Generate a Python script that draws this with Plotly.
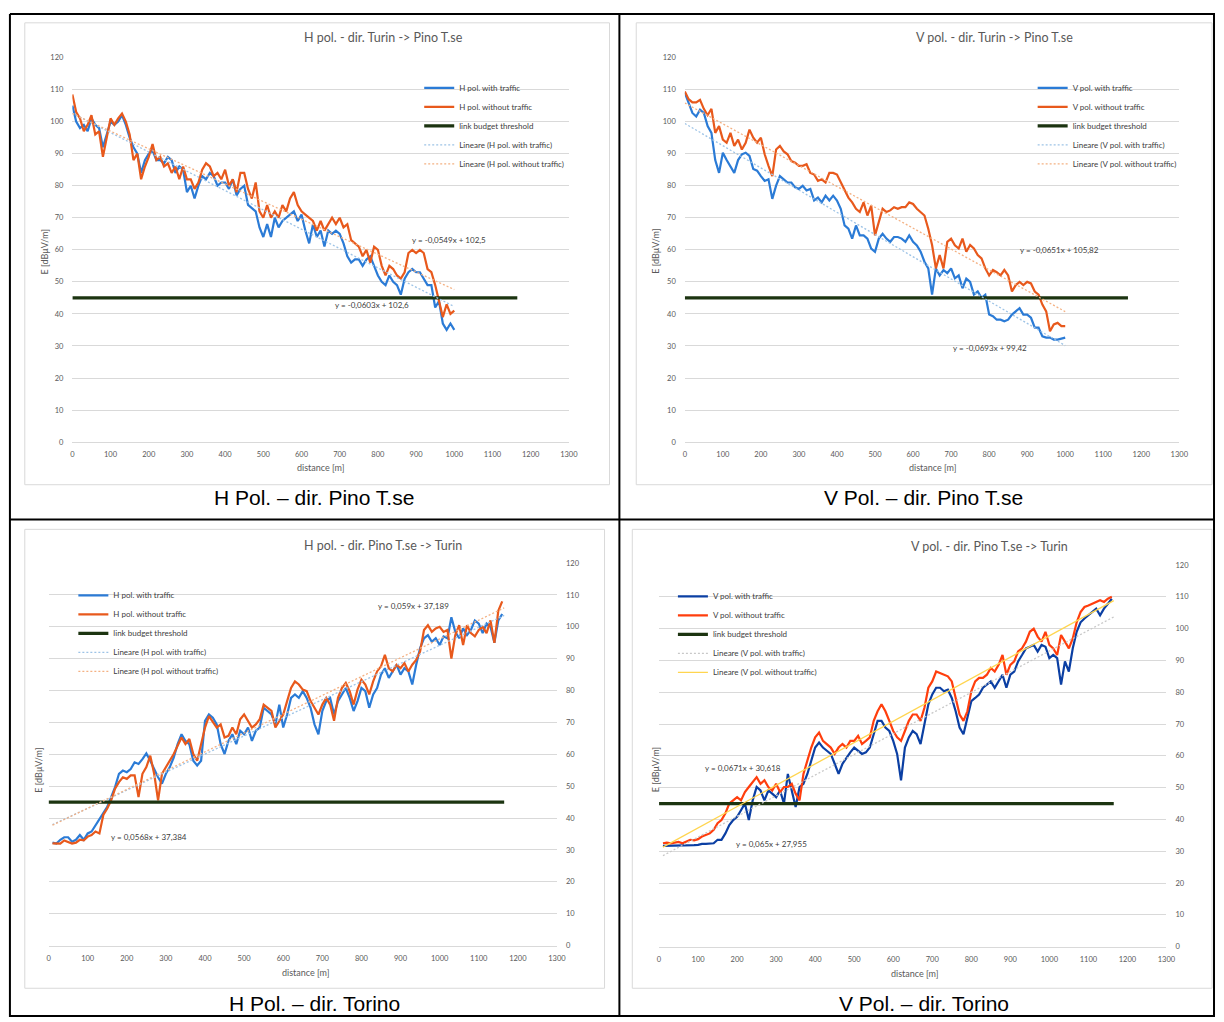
import plotly.graph_objects as go

# ---------------------------------------------------------------------------
# Field strength measurements along the road (distance in metres, E in dBuV/m)
# ---------------------------------------------------------------------------

# Turin -> Pino T.se, sampled every 10 m from 0 to 1000 m
dist_to_pino = list(range(0, 1001, 10))

h_pino_with_traffic = [
    105, 100, 98, 99, 97, 101, 99, 98, 92, 96,
    100, 99, 100, 102, 99, 95, 92, 90, 84, 88,
    90, 91, 88, 88, 87, 89, 88, 84, 86, 85,
    78, 80, 76, 80, 83, 82, 84, 83, 80, 81,
    81, 79, 82, 77, 79, 80, 74, 73, 72, 67,
    64, 68, 64, 70, 67, 69, 70, 71, 72, 69,
    71, 66, 62, 68, 64, 66, 61, 66, 65, 66,
    65, 62, 58, 56, 57, 57, 55, 57, 58, 55,
    52, 50, 49, 52, 50, 49, 46, 51, 53, 54,
    53, 53, 51, 49, 49, 42, 44, 37, 35, 37,
    35,
]
h_pino_without_traffic = [
    108.5, 103, 101, 97, 99, 102, 96, 97, 89, 95,
    101, 99, 101, 102.5, 100, 96, 88, 90, 82, 86,
    89, 93, 88, 89, 86, 87, 84, 86, 82, 86,
    82, 82, 79, 81, 85, 87, 86, 83, 84, 82,
    85, 80, 82, 78, 84, 84, 79, 76, 81, 72,
    70, 74, 70, 72, 70, 74, 72, 76, 78, 74,
    72, 71, 70, 69, 66, 69, 66, 68, 70, 68,
    70, 67, 68, 63, 62, 61, 58, 60, 56, 61,
    60, 55, 52, 55, 54, 52, 51, 53, 59, 60,
    59, 60, 59, 54, 53, 49, 44, 39, 43, 40,
    41,
]
v_pino_with_traffic = [
    109, 105.8, 102.7, 101.6, 103.7, 102.7, 98.6, 96.5, 88, 84,
    90.3, 88, 86.2, 84, 88, 89.8, 90.3, 89.3, 85.2, 84.7,
    83, 81.5, 82, 75.9, 80, 83, 82, 81, 81, 79.5,
    79, 80, 78.5, 79, 75.4, 76.3, 74.8, 76.9, 75.4, 76.9,
    75.4, 72.8, 67.6, 66.6, 63.5, 67.6, 64.5, 64.5, 63.5, 60.4,
    59.4, 63.5, 65, 63.5, 62.5, 64, 64, 63.5, 62.5, 64.5,
    62.5, 61.4, 59.4, 56.3, 54.2, 46, 54.2, 52, 53.7, 52.7,
    54.2, 51.1, 52, 48, 51, 50, 46, 47, 45, 46,
    39.8, 39.3, 38.2, 38.2, 37.7, 38.2, 39.8, 40.8, 41.8, 39.8,
    39.8, 38.8, 35.7, 35.7, 33, 32.6, 32.6, 32, 32, 32.3,
    32.6,
]
v_pino_without_traffic = [
    109.4, 107, 106, 106, 106.8, 104, 102, 104, 96.5, 98.6,
    94.4, 93.4, 96.5, 92.4, 94.4, 91.3, 93.4, 97.5, 95, 93.4,
    95, 89.8, 86.2, 83, 91.3, 92.4, 90.7, 89.8, 87.7, 87.2,
    86.2, 86.2, 86.7, 84, 83.5, 81.5, 82, 81, 84, 84,
    83.5, 81, 79, 76.3, 74.8, 72.8, 71.8, 74.8, 70.7, 73.8,
    64.5, 68.6, 72.8, 71.8, 72.3, 73.3, 72.8, 73.3, 73.3, 74.8,
    74.3, 72.8, 71.8, 70.7, 66.6, 61.5, 54.2, 58.4, 54.2, 62.5,
    63.5, 61.4, 60.4, 63.5, 59.4, 61.5, 60.4, 58.4, 57.3, 54.2,
    52, 53.7, 53, 52, 53.7, 52, 47, 49, 50, 49,
    50, 49.5, 47, 46, 42.9, 40.8, 34.6, 36.7, 37.2, 36.2,
    36.2,
]

# Pino T.se -> Turin, sampled every 10 m from 10 to 1160 m
dist_to_turin = list(range(10, 1161, 10))

h_turin_with_traffic = [
    32.3, 32, 33.2, 34, 34, 32.6, 33.2, 34.7, 33.2, 35.2,
    35.8, 37.8, 39.4, 41.5, 43.5, 46.6, 49.7, 53.9, 54.9, 54.4,
    55.4, 57.5, 57, 58.5, 60.3, 58, 55.4, 52.8, 50.8, 53.9,
    56, 59, 63.2, 66.3, 64.2, 63.2, 58, 56.5, 58, 70.5,
    72.5, 71.5, 69.4, 63.2, 60.1, 64.2, 66.3, 63.2, 67.4, 66.3,
    68.4, 64.2, 67.4, 68.4, 74.6, 73.6, 72.5, 69.4, 75.6, 68.4,
    72.5, 77.7, 78.8, 77.7, 79.8, 77.7, 74.6, 69.4, 66.3, 73.6,
    76.7, 77.7, 72.5, 76.7, 78.8, 80.8, 77.7, 73.6, 76.7, 80.8,
    79.8, 74.6, 78.8, 80.8, 85, 87, 84, 86, 88.1, 85,
    87, 86, 81.9, 88.1, 93.3, 96.4, 97.4, 95.3, 96.4, 94.3,
    97, 96.4, 103, 98.4, 96.4, 99.5, 97.4, 99, 102, 101,
    98, 101, 100, 95, 102, 104,
]
h_turin_without_traffic = [
    32.1, 32, 32, 33, 32.6, 32, 32.3, 33.2, 33, 34.2,
    34.7, 35.8, 35.2, 41, 43, 45.6, 49.2, 51.3, 52.8, 52.3,
    53.4, 53.4, 46.6, 53.9, 56, 59.6, 53.9, 45.6, 53.9, 56,
    58, 60.1, 62.7, 65.3, 63.2, 64.8, 60.1, 58, 63.2, 68.4,
    72, 70, 68.4, 69.4, 65.3, 65.8, 68.4, 66.3, 71, 72.5,
    70.5, 68.4, 69.4, 71, 75.6, 74.6, 73.6, 68.4, 70.5, 72.5,
    76.7, 80.8, 82.9, 81.9, 80.3, 79.8, 76.7, 74.6, 72.5, 75.6,
    77.7, 75.6, 70.5, 77.7, 80.8, 82.4, 79.8, 75.6, 80.3, 83.4,
    81.9, 78.8, 82.9, 86, 87.6, 91.2, 87, 86, 88.1, 87,
    88.6, 86, 88.1, 89.6, 92.3, 99, 100.5, 98.4, 99.5, 100,
    98.4, 99, 90, 97.4, 100.5, 94.3, 100.5, 98, 97, 99,
    100, 98, 102, 95, 105, 108,
]
v_turin_with_traffic = [
    31.7, 31.7, 31.7, 31.7, 31.7, 31.9, 31.7, 31.9, 31.9, 32,
    32.3, 32.3, 32.5, 32.5, 33.6, 33.6, 35.6, 38.2, 39.8, 40.8,
    42.9, 45, 39.8, 46, 50.2, 49.1, 46, 49.1, 48.1, 47,
    49.1, 45, 54.3, 49.1, 43.9, 50.2, 51.2, 54.3, 58.5, 62.6,
    64.2, 62.6, 61.6, 60.6, 57.5, 54.3, 57.5, 59.5, 61.1, 62.6,
    61.6, 60.6, 61.1, 62.6, 66.8, 71, 71, 68.9, 67.8, 64.7,
    60.6, 52.3, 62.6, 65.8, 67.8, 66.8, 63.7, 69.9, 76.2, 79.3,
    81.4, 81.4, 80.3, 80.8, 78.2, 74, 68.9, 66.8, 72, 77.2,
    78.2, 79.3, 81.4, 82.4, 83.4, 81.4, 83.4, 85.5, 81.4, 85.5,
    86.5, 89.7, 91.7, 93.8, 94.3, 94.9, 92.8, 94.9, 94.3, 90.7,
    91.7, 90.7, 82.4, 89.7, 86.5, 93.8, 99, 102, 103.2, 104.2,
    105.2, 106.3, 104.2, 106.3, 107.8, 109.4,
]
v_turin_without_traffic = [
    32.5, 32.7, 32.5, 32.7, 32.9, 32.5, 33.1, 33.6, 33.4, 33.8,
    34.6, 35.1, 35.6, 36.7, 38.8, 39.8, 41.9, 45, 46, 47,
    46, 48.6, 50.2, 51.7, 53.3, 51.2, 52.3, 50.2, 49.1, 51.2,
    48.6, 50.2, 50.2, 51.2, 48.1, 46, 54.3, 58.5, 62.6, 65.8,
    67.3, 64.7, 63.7, 62.6, 60.6, 62.6, 63.7, 62.6, 64.7, 64.7,
    66.3, 63.7, 64.7, 65.8, 71, 74, 76.2, 74, 71, 67.8,
    65.8, 64.7, 67.8, 71, 73, 73, 71, 75.1, 81.4, 83.4,
    86.5, 86, 85.5, 85, 83.4, 78.2, 73, 71, 74, 80.3,
    83.4, 84.5, 84.5, 85.5, 87.6, 86.5, 88.6, 91.7, 85.5, 88.6,
    89.7, 92.8, 93.8, 95.9, 99, 100, 97.5, 95.9, 99, 94.9,
    93.8, 91.7, 98, 95.9, 93.8, 96.9, 102, 105.2, 106.8, 107.3,
    107.8, 108.4, 108.9, 108.4, 109.4, 110,
]

# Link budget threshold (dBuV/m) and the distance span it is drawn over
threshold_level = 45
threshold_span = [0, 1165]

# Linear trend lines: (slope, intercept) as printed on each chart
trend_h_pino_with = (-0.0603, 102.6)
trend_h_pino_without = (-0.0549, 102.5)
trend_v_pino_with = (-0.0693, 99.42)
trend_v_pino_without = (-0.0651, 105.82)
trend_h_turin_with = (0.0568, 37.384)
trend_h_turin_without = (0.059, 37.189)
trend_v_turin_with = (0.065, 27.955)
trend_v_turin_without = (0.0671, 30.618)

trend_span_pino = [0, 1000]
trend_span_turin = [10, 1165]

# ---------------------------------------------------------------------------
# Page geometry (pixels) and helpers
# ---------------------------------------------------------------------------
W, H = 1224, 1022


def fx(px):
    return px / W


def fy(py):
    return 1 - py / H


FONT = "Lato, 'Open Sans', sans-serif"
GRID = "#D9D9D9"
TXT = "#595959"
FINE_DOT = "2px,2px"

panels = [
    dict(
        title="H pol. - dir. Turin -> Pino T.se",
        pol="H",
        dist=dist_to_pino,
        with_traffic=h_pino_with_traffic,
        without_traffic=h_pino_without_traffic,
        trend_with=trend_h_pino_with,
        trend_without=trend_h_pino_without,
        trend_span=trend_span_pino,
        colors=("#2B7BD6", "#E8591C"),
        trend_colors=("#9DC3E6", "#F4B183"),
        trend_dash=(FINE_DOT, FINE_DOT),
        xdom=(71, 572), ydom=(54, 442), yside="left",
        frame=(23, 19, 613, 485),
        title_pos=(385, 34), xtitle_pos=(322, 468), ytitle_pos=(43, 250),
        legend_pos=(421, 70),
        eq_with_pos=(373, 304), eq_without_pos=(451, 238),
        caption="H Pol. \u2013 dir. Pino T.se", caption_pos=(315, 498),
    ),
    dict(
        title="V pol. - dir. Turin -> Pino T.se",
        pol="V",
        dist=dist_to_pino,
        with_traffic=v_pino_with_traffic,
        without_traffic=v_pino_without_traffic,
        trend_with=trend_v_pino_with,
        trend_without=trend_v_pino_without,
        trend_span=trend_span_pino,
        colors=("#2B7BD6", "#E8591C"),
        trend_colors=("#9DC3E6", "#F4B183"),
        trend_dash=(FINE_DOT, FINE_DOT),
        xdom=(689, 1188), ydom=(54, 442), yside="left",
        frame=(640, 19, 1221, 485),
        title_pos=(1002, 34), xtitle_pos=(939, 468), ytitle_pos=(660, 250),
        legend_pos=(1040, 70),
        eq_with_pos=(997, 347), eq_without_pos=(1067, 248),
        caption="V Pol. \u2013 dir. Pino T.se", caption_pos=(930, 498),
    ),
    dict(
        title="H pol. - dir. Pino T.se -> Turin",
        pol="H",
        dist=dist_to_turin,
        with_traffic=h_turin_with_traffic,
        without_traffic=h_turin_without_traffic,
        trend_with=trend_h_turin_with,
        trend_without=trend_h_turin_without,
        trend_span=trend_span_turin,
        colors=("#2B7BD6", "#E8591C"),
        trend_colors=("#9DC3E6", "#F4B183"),
        trend_dash=(FINE_DOT, FINE_DOT),
        xdom=(47, 560), ydom=(564, 950), yside="right",
        frame=(23, 530, 608, 993),
        title_pos=(384, 546), xtitle_pos=(307, 977), ytitle_pos=(37, 773),
        legend_pos=(72, 582),
        eq_with_pos=(148, 840), eq_without_pos=(415, 607),
        caption="H Pol. \u2013 dir. Torino", caption_pos=(315, 1008),
    ),
    dict(
        title="V pol. - dir. Pino T.se -> Turin",
        pol="V",
        dist=dist_to_turin,
        with_traffic=v_turin_with_traffic,
        without_traffic=v_turin_without_traffic,
        trend_with=trend_v_turin_with,
        trend_without=trend_v_turin_without,
        trend_span=trend_span_turin,
        colors=("#0B3FA3", "#FF3E0D"),
        trend_colors=("#C8C8C8", "#FFD54F"),
        trend_dash=(FINE_DOT, "solid"),
        xdom=(663, 1175), ydom=(566, 951), yside="right",
        frame=(636, 530, 1221, 993),
        title_pos=(996, 547), xtitle_pos=(921, 978), ytitle_pos=(659, 773),
        legend_pos=(677, 583),
        eq_with_pos=(776, 847), eq_without_pos=(748, 771),
        caption="V Pol. \u2013 dir. Torino", caption_pos=(930, 1008),
    ),
]


def eq_text(coef):
    slope, icpt = coef
    s = f"{slope:g}".replace(".", ",")
    i = f"{icpt:g}".replace(".", ",")
    return f"y = {s}x + {i}"


def note(text, pos, size, color=TXT, family=FONT, angle=0):
    return dict(text=text, x=fx(pos[0]), y=fy(pos[1]),
                xref="paper", yref="paper", showarrow=False,
                xanchor="center", yanchor="middle", textangle=angle,
                font=dict(family=family, size=size, color=color))


fig = go.Figure()
layout = dict(
    width=W, height=H,
    margin=dict(l=0, r=0, t=0, b=0),
    paper_bgcolor="white", plot_bgcolor="white",
    font=dict(family=FONT, color=TXT, size=7),
    showlegend=True,
)
annotations = []
shapes = []

for k, p in enumerate(panels, start=1):
    sfx = "" if k == 1 else str(k)
    xa, ya = f"x{sfx}", f"y{sfx}"
    leg = "legend" if k == 1 else f"legend{k}"
    pol = p["pol"]

    fig.add_trace(go.Scatter(
        x=p["dist"], y=p["with_traffic"], mode="lines",
        name=f"{pol} pol. with traffic",
        line=dict(color=p["colors"][0], width=2.2),
        xaxis=xa, yaxis=ya, legend=leg,
    ))
    fig.add_trace(go.Scatter(
        x=p["dist"], y=p["without_traffic"], mode="lines",
        name=f"{pol} pol. without traffic",
        line=dict(color=p["colors"][1], width=2.2),
        xaxis=xa, yaxis=ya, legend=leg,
    ))
    fig.add_trace(go.Scatter(
        x=threshold_span, y=[threshold_level] * len(threshold_span),
        mode="lines", name="link budget threshold",
        line=dict(color="#1C3411", width=3.3),
        xaxis=xa, yaxis=ya, legend=leg,
    ))
    for label, coef, color, dash in (
        ("with traffic", p["trend_with"], p["trend_colors"][0], p["trend_dash"][0]),
        ("without traffic", p["trend_without"], p["trend_colors"][1], p["trend_dash"][1]),
    ):
        slope, icpt = coef
        fig.add_trace(go.Scatter(
            x=p["trend_span"], y=[slope * d + icpt for d in p["trend_span"]],
            mode="lines", name=f"Lineare ({pol} pol. {label})",
            line=dict(color=color, width=1.3, dash=dash),
            xaxis=xa, yaxis=ya, legend=leg,
        ))

    layout[f"xaxis{sfx}"] = dict(
        domain=[fx(p["xdom"][0]), fx(p["xdom"][1])], anchor=ya,
        range=[0, 1300], dtick=100, tick0=0,
        showgrid=False, zeroline=False, showline=True, linecolor=GRID,
        ticks="", ticklabelstandoff=5,
        tickfont=dict(family=FONT, size=7.5, color=TXT), fixedrange=True,
    )
    layout[f"yaxis{sfx}"] = dict(
        domain=[fy(p["ydom"][1]), fy(p["ydom"][0])], anchor=xa,
        range=[0, 120], dtick=10, tick0=0, side=p["yside"],
        showgrid=True, gridcolor=GRID, gridwidth=1, zeroline=False,
        showline=False, ticks="", ticklabelstandoff=8,
        tickfont=dict(family=FONT, size=7.5, color=TXT), fixedrange=True,
    )
    layout[leg] = dict(
        x=fx(p["legend_pos"][0]), y=fy(p["legend_pos"][1]),
        xanchor="left", yanchor="top", bgcolor="rgba(0,0,0,0)",
        font=dict(family=FONT, size=8, color="#404040"),
        itemwidth=30, tracegroupgap=0, traceorder="normal",
    )

    # chart title, axis titles, trend equations and the table caption
    annotations += [
        note(p["title"], p["title_pos"], 12.5),
        note("distance [m]", p["xtitle_pos"], 9),
        note("E [dBμV/m]", p["ytitle_pos"], 9, angle=-90),
        note(eq_text(p["trend_with"]), p["eq_with_pos"], 8, color="#404040"),
        note(eq_text(p["trend_without"]), p["eq_without_pos"], 8, color="#404040"),
        note(p["caption"], p["caption_pos"], 21, color="black",
             family="Liberation Sans, Arial, sans-serif"),
    ]
    x0, y0, x1, y1 = p["frame"]
    shapes.append(dict(type="rect", xref="paper", yref="paper",
                       x0=fx(x0), x1=fx(x1), y0=fy(y1), y1=fy(y0),
                       line=dict(color=GRID, width=1), layer="below"))

# table rules around and between the four charts
for (ax0, ay0, ax1, ay1) in [
    (8, 10, 1224, 10), (8, 10, 8, 1022), (623, 10, 623, 1022),
    (8, 520, 1224, 520), (1223, 10, 1223, 1022), (8, 1021, 1224, 1021),
]:
    shapes.append(dict(type="line", xref="paper", yref="paper",
                       x0=fx(ax0), x1=fx(ax1), y0=fy(ay0), y1=fy(ay1),
                       line=dict(color="black", width=2)))

layout["annotations"] = annotations
layout["shapes"] = shapes
fig.update_layout(**layout)

fig.write_html("out.html")
